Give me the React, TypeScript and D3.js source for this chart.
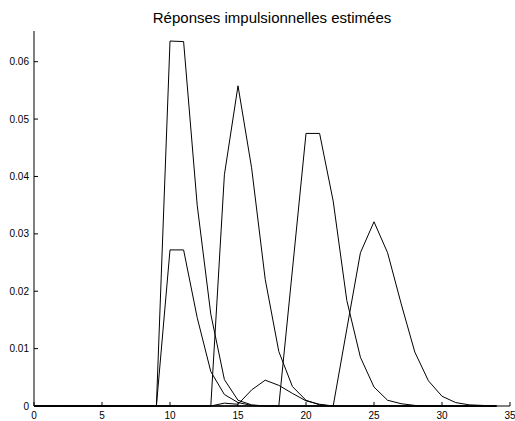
import React from 'react';
import * as d3 from 'd3';

// sample index 0..34
const steps = d3.range(0, 35);

// estimated impulse responses
const seriesA = [0, 0, 0, 0, 0, 0, 0, 0, 0, 0, 0.0636, 0.0635, 0.0350, 0.0160, 0.0046, 0.0010, 0.0002, 0, 0, 0, 0, 0, 0, 0, 0, 0, 0, 0, 0, 0, 0, 0, 0, 0, 0];
const seriesB = [0, 0, 0, 0, 0, 0, 0, 0, 0, 0, 0.0272, 0.0272, 0.0154, 0.0060, 0.0020, 0.0006, 0.0001, 0, 0, 0, 0, 0, 0, 0, 0, 0, 0, 0, 0, 0, 0, 0, 0, 0, 0];
const seriesC = [0, 0, 0, 0, 0, 0, 0, 0, 0, 0, 0, 0, 0, 0, 0.0403, 0.0558, 0.0415, 0.0221, 0.0095, 0.0034, 0.0010, 0.0002, 0, 0, 0, 0, 0, 0, 0, 0, 0, 0, 0, 0, 0];
const seriesD = [0, 0, 0, 0, 0, 0, 0, 0, 0, 0, 0, 0, 0, 0, 0.0005, 0.0003, 0.0028, 0.0045, 0.0036, 0.0022, 0.0009, 0.0003, 0, 0, 0, 0, 0, 0, 0, 0, 0, 0, 0, 0, 0];
const seriesE = [0, 0, 0, 0, 0, 0, 0, 0, 0, 0, 0, 0, 0, 0, 0, 0, 0, 0, 0, 0.0237, 0.0475, 0.0475, 0.0357, 0.0184, 0.0085, 0.0033, 0.0010, 0.0004, 0.0001, 0, 0, 0, 0, 0, 0];
const seriesF = [0, 0, 0, 0, 0, 0, 0, 0, 0, 0, 0, 0, 0, 0, 0, 0, 0, 0, 0, 0, 0, 0, 0, 0.0134, 0.0267, 0.0321, 0.0267, 0.0178, 0.0094, 0.0044, 0.0017, 0.0006, 0.0002, 0.0001, 0];

const allSeries = [seriesA, seriesB, seriesC, seriesD, seriesE, seriesF];

const xTicks = [0, 5, 10, 15, 20, 25, 30, 35];
const yTicks = [0, 0.01, 0.02, 0.03, 0.04, 0.05, 0.06];
const yTickLabels = ['0', '0.01', '0.02', '0.03', '0.04', '0.05', '0.06'];

const title = 'Réponses impulsionnelles estimées';

const W = 515;
const H = 421;
const margin = { top: 33, right: 5, bottom: 15, left: 34 };

const App = () => {
    const x = d3.scaleLinear().domain([0, 35]).range([margin.left, W - margin.right]);
    const y = d3.scaleLinear().domain([0, 0.065]).range([H - margin.bottom, margin.top]);

    const line = d3.line<number>()
        .x((d, i) => x(steps[i]))
        .y(d => y(d));

    const font = '"Liberation Sans", Arial, sans-serif';
    const tick = 4;

    return (
        <svg width={W} height={H} style={{ position: 'absolute', left: 0, top: 0, background: '#fff' }}
            fontFamily={font}>
            <rect width={W} height={H} fill="#fff" />
            <text x={(x(0) + x(35)) / 2} y={23} fontSize={15} textAnchor="middle" fill="#000">{title}</text>

            {/* axes */}
            <line x1={x(0)} x2={x(0)} y1={y(0)} y2={31} stroke="#000" strokeWidth={1} />
            <line x1={x(0)} x2={x(35)} y1={y(0)} y2={y(0)} stroke="#000" strokeWidth={1} />

            {xTicks.map(t => (
                <g key={'x' + t}>
                    <line x1={x(t)} x2={x(t)} y1={y(0)} y2={y(0) - tick} stroke="#000" />
                    <text x={x(t)} y={419} fontSize={10} textAnchor="middle" fill="#000">{t}</text>
                </g>
            ))}
            {yTicks.map((t, i) => (
                <g key={'y' + t}>
                    <line x1={x(0)} x2={x(0) + tick} y1={y(t)} y2={y(t)} stroke="#000" />
                    <text x={x(0) - 5} y={y(t) + 3.5} fontSize={10} textAnchor="end" fill="#000">{yTickLabels[i]}</text>
                </g>
            ))}

            {allSeries.map((s, i) => (
                <path key={i} d={line(s) || ''} fill="none" stroke="#000" strokeWidth={1} />
            ))}
        </svg>
    );
};

export default App;
